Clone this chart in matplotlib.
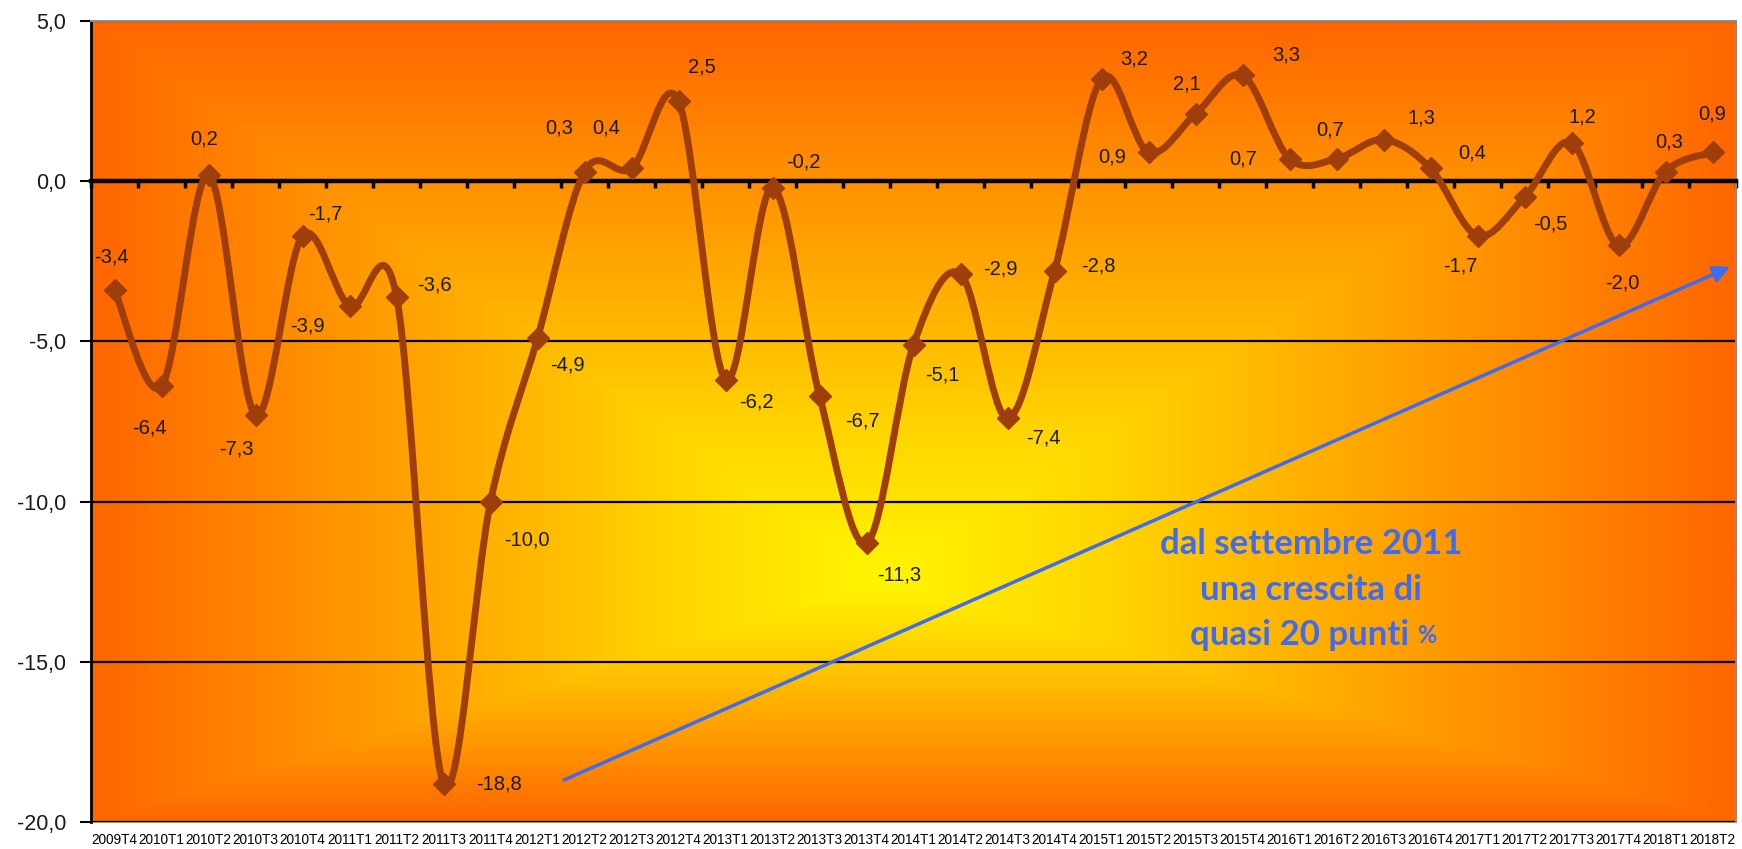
import numpy as np
import matplotlib
matplotlib.use("Agg")
import matplotlib.pyplot as plt
from matplotlib.path import Path
from matplotlib.patches import PathPatch
from matplotlib.colors import LinearSegmentedColormap
from matplotlib.ticker import FuncFormatter

quarters = ["2009T4", "2010T1", "2010T2", "2010T3", "2010T4", "2011T1", "2011T2",
            "2011T3", "2011T4", "2012T1", "2012T2", "2012T3", "2012T4", "2013T1",
            "2013T2", "2013T3", "2013T4", "2014T1", "2014T2", "2014T3", "2014T4",
            "2015T1", "2015T2", "2015T3", "2015T4", "2016T1", "2016T2", "2016T3",
            "2016T4", "2017T1", "2017T2", "2017T3", "2017T4", "2018T1", "2018T2"]
growth = [-3.4, -6.4, 0.2, -7.3, -1.7, -3.9, -3.6, -18.8, -10.0, -4.9, 0.3, 0.4,
          2.5, -6.2, -0.2, -6.7, -11.3, -5.1, -2.9, -7.4, -2.8, 3.2, 0.9, 2.1,
          3.3, 0.7, 0.7, 1.3, 0.4, -1.7, -0.5, 1.2, -2.0, 0.3, 0.9]

# where each data label sits relative to its point (screen pixels, +y = down)
label_offsets = [(-3, -33), (-12, 42), (-4, -36), (-19, 34), (23, -22), (-42, 20),
                 (38, -12), (55, 0), (36, 38), (30, 27), (-25, -44), (-25, -40),
                 (23, -34), (31, 22), (31, -26), (43, 25), (33, 32), (29, 30),
                 (40, -5), (36, 20), (44, -5), (33, -20), (-36, 5), (-9, -30),
                 (44, -20), (-46, 0), (-6, -29), (38, -22), (42, -15), (-17, 30),
                 (26, 27), (11, -26), (4, 38), (4, -30), (0, -38)]

note_lines = ["dal settembre 2011", "una crescita di", "quasi 20 punti"]

line_col = "#9E3F0B"
blue = "#3F6BF0"

plt.rcParams["font.family"] = ["Liberation Sans", "DejaVu Sans"]

fig = plt.figure(figsize=(17.42, 8.49), dpi=100)
ax = fig.add_axes([91 / 1742, 27 / 849, 1645 / 1742, 801 / 849])

# rectangular "from centre" gradient fill like the Excel plot area
nx, ny = 600, 400
X, Y = np.meshgrid(np.linspace(0, 1, nx), np.linspace(0, 1, ny))
cx, cy = 0.48, 0.30
rx = np.where(X < cx, (cx - X) / cx, (X - cx) / (1 - cx))
ry = np.where(Y < cy, (cy - Y) / cy, (Y - cy) / (1 - cy))
r = np.maximum(rx, ry)
cmap = LinearSegmentedColormap.from_list(
    "bg", [(0, "#FFF500"), (0.25, "#FFD700"), (0.5, "#FFB000"),
           (0.75, "#FF8C00"), (1.0, "#FF6600")])
ax.imshow(r, cmap=cmap, vmin=0, vmax=1, origin="lower", extent=(0, 1, 0, 1),
          transform=ax.transAxes, aspect="auto", zorder=0, interpolation="bilinear")

n = len(growth)
xs = np.arange(n)
ys = np.array(growth)

# smoothed line (Catmull-Rom bezier through the points, as Excel does)
pts = np.column_stack([xs, ys]).astype(float)
ext = np.vstack([pts[0], pts, pts[-1]])
verts = [pts[0]]
codes = [Path.MOVETO]
for i in range(n - 1):
    p0, p1, p2, p3 = ext[i], ext[i + 1], ext[i + 2], ext[i + 3]
    c1 = p1 + (p2 - p0) / 6
    c2 = p2 - (p3 - p1) / 6
    verts += [c1, c2, p2]
    codes += [Path.CURVE4] * 3
ax.add_patch(PathPatch(Path(verts, codes), fill=False, edgecolor=line_col,
                       lw=5, zorder=3, capstyle="round", joinstyle="round"))
ax.plot(xs, ys, ls="none", marker="D", ms=11, color=line_col, zorder=4)

for i, v in enumerate(growth):
    dx, dy = label_offsets[i]
    ax.annotate(f"{v:.1f}".replace(".", ","), (xs[i], v), xytext=(dx, -dy),
                textcoords="offset pixels", ha="center", va="center",
                fontsize=14.5, color="#1a1a1a", zorder=5)

ax.set_xlim(-0.5, n - 0.5)
ax.set_ylim(-20, 5)

# y axis
ax.set_yticks(range(-20, 6, 5))
ax.yaxis.set_major_formatter(FuncFormatter(lambda v, p: f"{v:.1f}".replace(".", ",")))
ax.tick_params(axis="y", length=8, width=1.5, pad=10, labelsize=15.5, labelcolor="#1a1a1a")
ax.yaxis.grid(True, color="black", lw=1.6)
ax.set_axisbelow(True)

# category axis crosses at 0, ticks between categories
ax.spines["bottom"].set_position(("data", 0))
ax.spines["bottom"].set_linewidth(3.2)
ax.spines["bottom"].set_zorder(2.5)
ax.set_xticks(np.arange(n + 1) - 0.5)
ax.set_xticklabels([])
ax.tick_params(axis="x", direction="out", length=5, width=2.5, color="black")

ax.spines["left"].set_linewidth(2)
ax.spines["left"].set_color("black")
for s in ["top", "right"]:
    ax.spines[s].set_color("#8c8c8c")
    ax.spines[s].set_linewidth(1.5)

sec = ax.secondary_xaxis("bottom")
sec.set_xticks(xs, labels=quarters)
sec.tick_params(length=0, pad=8, labelsize=9.8, labelcolor="black")
sec.spines["bottom"].set_color("#8c8c8c")
sec.spines["bottom"].set_linewidth(1.5)

# blue arrow and note
ax.annotate("", xy=(0.9964, 0.693), xytext=(0.2875, 0.0524),
            xycoords="axes fraction", textcoords="axes fraction",
            arrowprops=dict(arrowstyle="-|>", color=blue, lw=2.5,
                            mutation_scale=25, shrinkA=0, shrinkB=0), zorder=6)
note_font = dict(fontsize=25, fontweight="bold", color=blue,
                 family=["Lato", "DejaVu Sans"], zorder=6, va="center")
ys_note = [0.347, 0.290, 0.233]
for k, txt in enumerate(note_lines):
    if k < 2:
        ax.text(0.7416, ys_note[k], txt, transform=ax.transAxes, ha="center", **note_font)
    else:
        ax.text(0.801, ys_note[k], txt, transform=ax.transAxes, ha="right", **note_font)
        ax.text(0.806, ys_note[k], "%", transform=ax.transAxes, ha="left",
                **dict(note_font, fontsize=17))

fig.savefig("out.png", dpi=100)
